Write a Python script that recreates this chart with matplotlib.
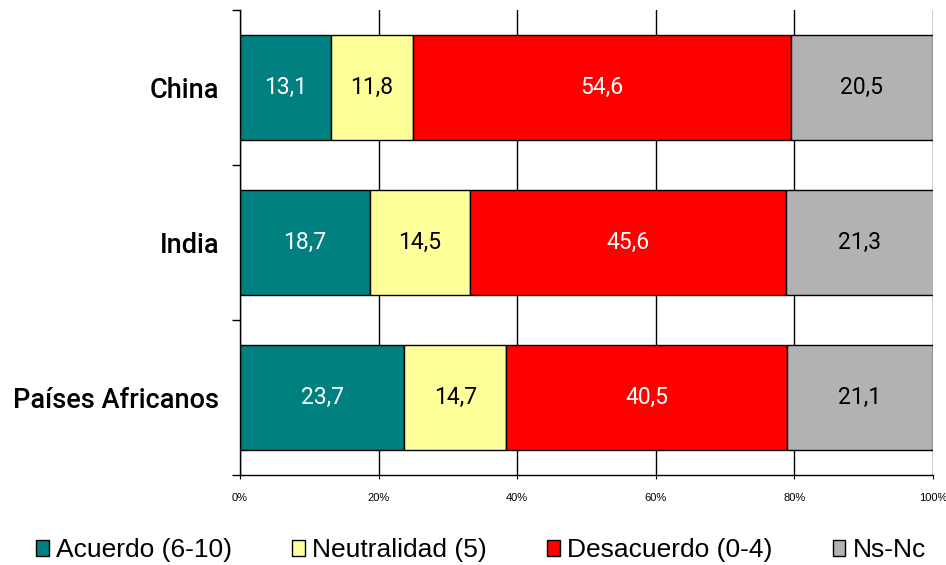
import numpy as np
import matplotlib.pyplot as plt

# Datos
paises = ['China', 'India', 'Países Africanos']
acuerdo = [13.1, 18.7, 23.7]
neutralidad = [11.8, 14.5, 14.7]
desacuerdo = [54.6, 45.6, 40.5]
nsnc = [20.5, 21.3, 21.1]

series = [acuerdo, neutralidad, desacuerdo, nsnc]
nombres = ['Acuerdo (6-10)', 'Neutralidad (5)', 'Desacuerdo (0-4)', 'Ns-Nc']
colores = ['#008080', '#FFFF99', '#FF0000', '#B2B2B2']
color_texto = ['white', 'black', 'white', 'black']

fig = plt.figure(figsize=(9.46, 5.65), dpi=100)
ax = fig.add_axes([240 / 946, 1 - 475 / 565, 693 / 946, 465 / 565])

y = np.arange(len(paises))
izq = np.zeros(len(paises))
for vals, nom, col, ct in zip(series, nombres, colores, color_texto):
    vals = np.array(vals)
    bars = ax.barh(y, vals / 100, left=izq / 100, height=0.68, color=col,
                   edgecolor='black', linewidth=1, label=nom, zorder=3)
    for b, v in zip(bars, vals):
        ax.text(b.get_x() + b.get_width() / 2, b.get_y() + b.get_height() / 2,
                f'{v:.1f}'.replace('.', ','), ha='center', va='center',
                color=ct, fontsize=16.5, family='Roboto', zorder=4)
    izq += vals

ax.set_xlim(0, 1)
ax.set_ylim(2.5, -0.5)

# eje x
ax.set_xticks(np.arange(0, 1.01, 0.2))
ax.set_xticklabels([f'{int(round(t * 100))}%' for t in np.arange(0, 1.01, 0.2)],
                   fontsize=8, family=['Liberation Sans Narrow', 'Liberation Sans'])
ax.tick_params(axis='x', length=3, pad=10, color='black')
ax.xaxis.grid(True, color='black', linewidth=1, zorder=0)

# eje y
ax.set_yticks(y)
ax.set_yticklabels(paises, fontsize=19.5, family='Roboto', fontweight='medium')
ax.tick_params(axis='y', which='major', length=0, pad=15)
ax.set_yticks([-0.5, 0.5, 1.5, 2.5], minor=True)
ax.tick_params(axis='y', which='minor', length=6, width=1, color='black')

for s in ['top', 'right']:
    ax.spines[s].set_visible(False)
for s in ['left', 'bottom']:
    ax.spines[s].set_color('black')
    ax.spines[s].set_linewidth(1)
    ax.spines[s].set_zorder(5)

fig.legend(loc='center', bbox_to_anchor=(481 / 946, 1 - 550 / 565), ncol=4,
           frameon=False, prop={'family': 'Liberation Sans', 'size': 19},
           handlelength=0.47, handleheight=0.55, handletextpad=0.27,
           columnspacing=2.3, borderpad=0, borderaxespad=0)

fig.savefig('out.png', dpi=100)
